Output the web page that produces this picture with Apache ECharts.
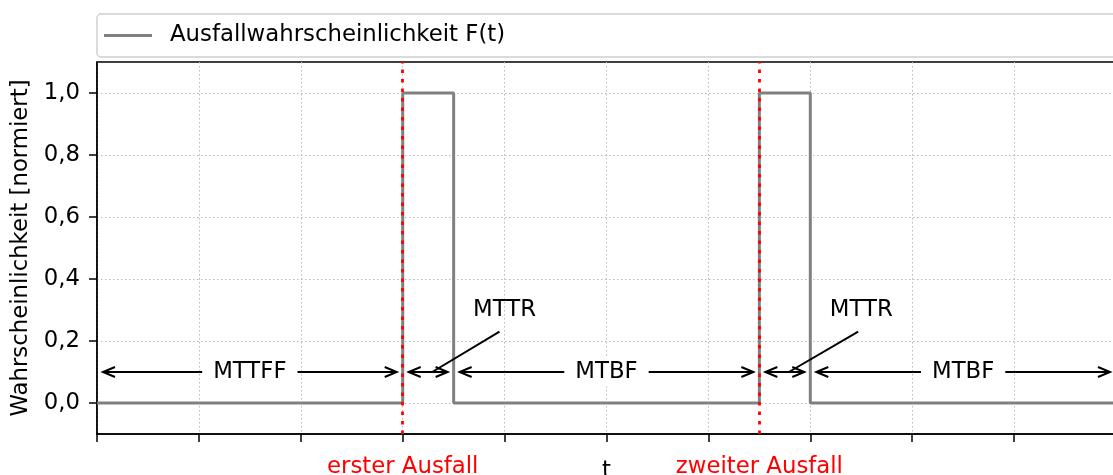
<!DOCTYPE html>
<html><head><meta charset="utf-8">
<script src="https://cdn.jsdelivr.net/npm/echarts@6/dist/echarts.min.js"></script>
<style>html,body{margin:0;padding:0;background:#fff;} #c{width:1113px;height:475px;}</style>
</head><body><div id="c"></div>
<script>
const seriesName = 'Ausfallwahrscheinlichkeit F(t)';
const stepX = [0, 3, 3, 3.5, 3.5, 6.5, 6.5, 7, 7, 10];
const stepY = [0, 0, 1, 1, 0, 0, 1, 1, 0, 0];
const failureX = [3, 6.5];
const failureLabels = ['erster Ausfall', 'zweiter Ausfall'];
const spanFrom = [0, 3, 3.5, 6.5, 7];
const spanTo = [3, 3.5, 6.5, 7, 10];
const spanLabels = ['MTTFF', '', 'MTBF', '', 'MTBF'];
const spanLevel = 0.1;
const mttrText = ['MTTR', 'MTTR'];
const mttrTextX = [4, 7.5];
const mttrTextY = 0.3;
const mttrLineFromX = [3.95, 7.47];
const mttrLineFromY = 0.23;
const mttrLineToX = [3.29, 6.79];
const mttrLineToY = 0.1;
const yTicks = [0, 0.2, 0.4, 0.6, 0.8, 1.0];
const xLimits = [0, 10];
const yLimits = [-0.1, 1.1];
const xAxisName = 't';
const yAxisName = 'Wahrscheinlichkeit [normiert]';

const FONT = 'DejaVu Sans';
const FS = 22.8;
const chart = echarts.init(document.getElementById('c'), null, {renderer: 'canvas'});

function renderSpan(params, api) {
  const a = api.coord([api.value(0), api.value(2)]);
  const b = api.coord([api.value(1), api.value(2)]);
  const s = 6, hl = 12, hw = 5;
  const x1 = a[0] + s, x2 = b[0] - s, y = a[1];
  const lineStyle = {stroke: '#000', lineWidth: 2, fill: null};
  const children = [
    {type: 'line', shape: {x1: x1, y1: y, x2: x2, y2: y}, style: lineStyle},
    {type: 'polyline', shape: {points: [[x1 + hl, y - hw], [x1, y], [x1 + hl, y + hw]]}, style: lineStyle},
    {type: 'polyline', shape: {points: [[x2 - hl, y - hw], [x2, y], [x2 - hl, y + hw]]}, style: lineStyle}
  ];
  const label = spanLabels[params.dataIndex];
  if (label) {
    children.push({
      type: 'text', x: (a[0] + b[0]) / 2, y: y,
      style: {text: label, fill: '#000', fontSize: FS, fontFamily: FONT,
        align: 'center', verticalAlign: 'middle', backgroundColor: '#fff', padding: [3, 11]}
    });
  }
  return {type: 'group', children: children};
}

function renderMttr(params, api) {
  const t = api.coord([api.value(0), api.value(1)]);
  const p1 = api.coord([api.value(2), api.value(3)]);
  const p2 = api.coord([api.value(4), api.value(5)]);
  return {type: 'group', children: [
    {type: 'line', shape: {x1: p1[0], y1: p1[1], x2: p2[0], y2: p2[1]}, style: {stroke: '#000', lineWidth: 2}},
    {type: 'text', x: t[0], y: t[1], style: {text: mttrText[params.dataIndex], fill: '#000', fontSize: FS, fontFamily: FONT, align: 'center', verticalAlign: 'middle'}}
  ]};
}

const fmt = v => v.toFixed(1).replace('.', ',');
const gridLine = {show: true, lineStyle: {color: '#b8b8b8', width: 1, type: [1.5, 2.5]}};

const option = {
  animation: false,
  textStyle: {fontFamily: FONT},
  grid: {left: 97, top: 62, right: -3, bottom: 41, show: true, borderColor: '#000', borderWidth: 1.5,
    containLabel: false, outerBoundsMode: 'none'},
  legend: {
    data: [{name: seriesName, icon: 'rect'}], left: 97, top: 14, padding: [10, 1300, 10, 7],
    itemWidth: 48, itemHeight: 3, borderColor: '#d0d0d0', borderWidth: 1.5, borderRadius: 4,
    itemStyle: {color: '#808080'},
    textStyle: {fontSize: FS, color: '#000', fontFamily: FONT, padding: [0, 0, 0, 13]}
  },
  xAxis: {
    type: 'value', min: xLimits[0], max: xLimits[1], interval: 1,
    name: xAxisName, nameLocation: 'middle', nameGap: 26,
    nameTextStyle: {fontSize: FS, color: '#000', fontFamily: FONT},
    axisLine: {onZero: false, lineStyle: {color: '#000', width: 1.5}},
    axisTick: {show: true, length: 8, lineStyle: {color: '#000', width: 1.5}},
    axisLabel: {show: false},
    splitLine: gridLine
  },
  yAxis: {
    type: 'value', min: yLimits[0], max: yLimits[1],
    name: yAxisName, nameLocation: 'middle', nameGap: 55,
    nameTextStyle: {fontSize: FS, color: '#000', fontFamily: FONT},
    axisLine: {show: true, onZero: false, lineStyle: {color: '#000', width: 1.5}},
    axisTick: {show: true, length: 8, customValues: yTicks, lineStyle: {color: '#000', width: 1.5}},
    axisLabel: {show: true, customValues: yTicks, margin: 17, fontSize: FS, color: '#000', fontFamily: FONT, formatter: fmt},
    splitLine: gridLine
  },
  series: [
    {
      name: seriesName, type: 'line', z: 2,
      data: stepX.map((x, i) => [x, stepY[i]]),
      symbol: 'none', color: '#808080',
      lineStyle: {color: '#808080', width: 3}
    },
    {
      name: 'failures', type: 'line', z: 5, data: [],
      markLine: {
        silent: true, symbol: 'none', animation: false,
        lineStyle: {color: '#ff0000', width: 2.8, type: [3.5, 6]},
        label: {show: true, position: 'start', distance: 22, color: '#ff0000', fontSize: FS, fontFamily: FONT},
        data: failureX.map((x, i) => ({xAxis: x, label: {formatter: failureLabels[i]}}))
      }
    },
    {
      name: 'spans', type: 'custom', z: 4,
      renderItem: renderSpan,
      encode: {x: [0, 1], y: 2},
      data: spanFrom.map((f, i) => [f, spanTo[i], spanLevel])
    },
    {
      name: 'mttr', type: 'custom', z: 4,
      renderItem: renderMttr,
      encode: {x: [0, 2, 4], y: [1, 3, 5]},
      data: mttrTextX.map((x, i) => [x, mttrTextY, mttrLineFromX[i], mttrLineFromY, mttrLineToX[i], mttrLineToY])
    }
  ]
};
chart.setOption(option);
</script>
</body></html>
